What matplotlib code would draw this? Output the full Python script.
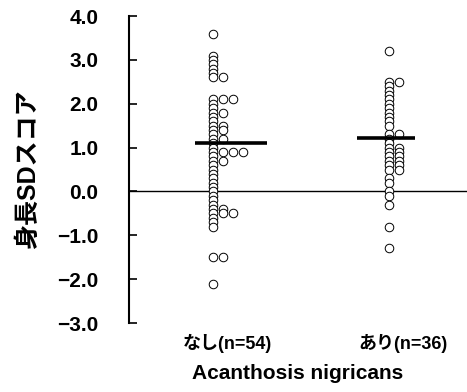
import matplotlib
matplotlib.use("Agg")
import matplotlib.pyplot as plt
from collections import Counter

plt.rcParams['font.family'] = ['Liberation Sans', 'Noto Sans CJK JP']

# data
groups = ["なし(n=54)", "あり(n=36)"]
nashi = [3.6, 3.1, 3.0, 2.9, 2.8, 2.7, 2.6, 2.6, 2.1, 2.1, 2.1, 2.0, 1.9,
         1.8, 1.8, 1.7, 1.6, 1.5, 1.5, 1.4, 1.4, 1.3, 1.2, 1.2, 1.1, 1.0,
         0.9, 0.9, 0.9, 0.9, 0.8, 0.7, 0.7, 0.6, 0.5, 0.4, 0.3, 0.2, 0.1,
         0.0, -0.1, -0.2, -0.3, -0.4, -0.4, -0.5, -0.5, -0.5, -0.6, -0.7,
         -0.8, -1.5, -1.5, -2.1]
ari = [3.2, 2.5, 2.5, 2.4, 2.3, 2.2, 2.1, 2.0, 1.9, 1.8, 1.7, 1.6, 1.5,
       1.3, 1.3, 1.2, 1.1, 1.0, 1.0, 0.9, 0.9, 0.8, 0.8, 0.7, 0.7, 0.6,
       0.6, 0.5, 0.5, 0.3, 0.2, 0.0, -0.1, -0.3, -0.8, -1.3]
means = [1.1, 1.23]
yticks = [4.0, 3.0, 2.0, 1.0, 0.0, -1.0, -2.0, -3.0]

fig = plt.figure(figsize=(4.67, 3.92), dpi=100)
ax = fig.add_axes([0.276, 0.176, 0.724, 0.783])

# spread equal values side by side
step = 0.057
spans = [(-0.18, 0.23), (-0.26, 0.07)]
for i, vals in enumerate([nashi, ari]):
    seen = Counter()
    xs = []
    for v in vals:
        xs.append(i - 0.08 + seen[v] * step)
        seen[v] += 1
    ax.scatter(xs, vals, s=38, facecolors='white', edgecolors='black',
               linewidths=0.7, zorder=3)
    ax.plot([i + spans[i][0], i + spans[i][1]], [means[i], means[i]],
            color='black', lw=2.6, solid_capstyle='butt', zorder=4)

ax.axhline(0, color='black', lw=1.0, zorder=1)

ax.set_xlim(-0.557, 1.364)
ax.set_ylim(-3, 4)
ax.set_xticks([0, 1])
ax.set_xticklabels(groups, fontsize=13, fontweight='bold')
ax.set_yticks(yticks)
ax.set_yticklabels([("%.1f" % t).replace("-", "\u2212") for t in yticks],
                   fontsize=15, fontweight='bold')
ax.tick_params(axis='y', direction='in', length=6, width=1.2, pad=22)
ax.tick_params(axis='x', length=0, pad=8)

for s in ['top', 'right', 'bottom']:
    ax.spines[s].set_visible(False)
ax.spines['left'].set_linewidth(1.5)

ax.set_ylabel("身長SDスコア", fontsize=18, fontweight='bold', labelpad=12)
ax.set_xlabel("Acanthosis nigricans", fontsize=15, fontweight='bold', labelpad=8)

fig.savefig("out.png", dpi=100)
